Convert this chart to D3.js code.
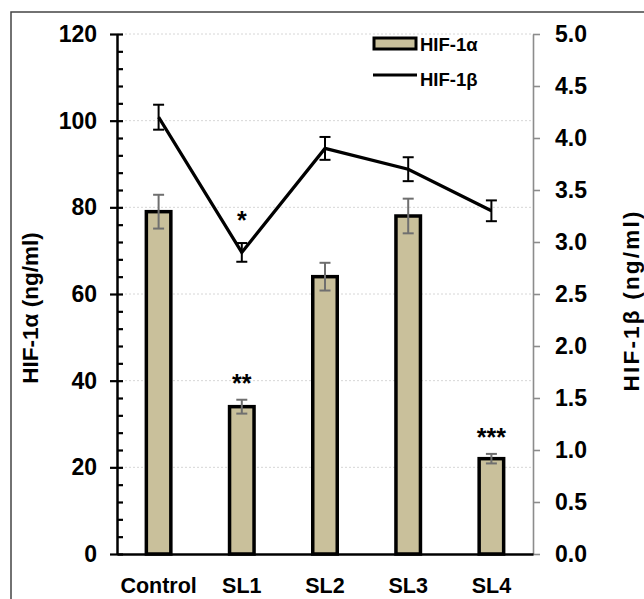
<!DOCTYPE html>
<html>
<head>
<meta charset="utf-8">
<script src="https://cdn.jsdelivr.net/npm/d3@7"></script>
<style>
  body { margin: 0; background: #fff; }
  svg { display: block; font-family: "Liberation Sans", Arial, sans-serif; font-weight: bold; }
</style>
</head>
<body>
<div id="chart"></div>
<script>
const width = 644;
const height = 599;

const categories = ["Control", "SL1", "SL2", "SL3", "SL4"];
const hif1a = [79, 34, 64, 78, 22];
const hif1aErr = [3.9, 1.6, 3.2, 4.0, 1.1];
const hif1b = [4.2, 2.9, 3.9, 3.7, 3.3];
const hif1bErr = [0.12, 0.09, 0.11, 0.115, 0.1];
const leftTicks = [0, 20, 40, 60, 80, 100, 120];
const rightTicks = [0, 0.5, 1, 1.5, 2, 2.5, 3, 3.5, 4, 4.5, 5];
const stars = [
    { cat: "SL1", series: "b", label: "*" },
    { cat: "SL1", series: "a", label: "**" },
    { cat: "SL4", series: "a", label: "***" }
];

const barColor = "#c9c09b";
const plot = { left: 117, right: 533, top: 34, bottom: 554 };

const x = d3.scaleBand().domain(categories).range([plot.left, plot.right]);
const yL = d3.scaleLinear().domain([0, 120]).range([plot.bottom, plot.top]);
const yR = d3.scaleLinear().domain([0, 5]).range([plot.bottom, plot.top]);
const cx = d => x(d) + x.bandwidth() / 2;

const rowsA = categories.map((c, i) => ({ cat: c, v: hif1a[i], e: hif1aErr[i] }));
const rowsB = categories.map((c, i) => ({ cat: c, v: hif1b[i], e: hif1bErr[i] }));

const svg = d3.select("#chart")
    .append("svg")
    .attr("width", width)
    .attr("height", height);

// frame (top and left edges visible)
svg.append("path")
    .attr("d", `M11,${height}V12H${width}`)
    .attr("fill", "none")
    .attr("stroke", "#444")
    .attr("stroke-width", 1.5);

// dotted grid
svg.append("g")
    .selectAll("line")
    .data(leftTicks.filter(t => t > 0))
    .join("line")
    .attr("x1", plot.left)
    .attr("x2", plot.right)
    .attr("y1", d => yL(d))
    .attr("y2", d => yL(d))
    .attr("stroke", "#d6d6d6")
    .attr("stroke-dasharray", "2,2");

// bars
const barW = 24.5;
svg.append("g")
    .selectAll("rect")
    .data(rowsA)
    .join("rect")
    .attr("x", d => cx(d.cat) - barW / 2)
    .attr("width", barW)
    .attr("y", d => yL(d.v))
    .attr("height", d => yL(0) - yL(d.v))
    .attr("fill", barColor)
    .attr("stroke", "#000")
    .attr("stroke-width", 3.5);

function errorBars(g, rows, y, color) {
    const cap = 5.5;
    const eb = g.selectAll("g")
        .data(rows)
        .join("g")
        .attr("stroke", color)
        .attr("stroke-width", 2);
    eb.append("line")
        .attr("x1", d => cx(d.cat)).attr("x2", d => cx(d.cat))
        .attr("y1", d => y(d.v - d.e)).attr("y2", d => y(d.v + d.e));
    eb.append("line")
        .attr("x1", d => cx(d.cat) - cap).attr("x2", d => cx(d.cat) + cap)
        .attr("y1", d => y(d.v + d.e)).attr("y2", d => y(d.v + d.e));
    eb.append("line")
        .attr("x1", d => cx(d.cat) - cap).attr("x2", d => cx(d.cat) + cap)
        .attr("y1", d => y(d.v - d.e)).attr("y2", d => y(d.v - d.e));
}

svg.append("g").call(errorBars, rowsA, yL, "#6f6f6f");

// HIF-1b line
const line = d3.line().x(d => cx(d.cat)).y(d => yR(d.v));
svg.append("path")
    .datum(rowsB)
    .attr("d", line)
    .attr("fill", "none")
    .attr("stroke", "#000")
    .attr("stroke-width", 3.2);

svg.append("g").call(errorBars, rowsB, yR, "#000");

// significance marks
svg.append("g")
    .attr("font-size", 25)
    .attr("text-anchor", "middle")
    .selectAll("text")
    .data(stars)
    .join("text")
    .attr("x", d => cx(d.cat))
    .attr("y", d => {
        const i = categories.indexOf(d.cat);
        const top = d.series === "a" ? yL(hif1a[i] + hif1aErr[i]) : yR(hif1b[i] + hif1bErr[i]);
        return top - (d.series === "a" ? 22 : 28) + 14;
    })
    .text(d => d.label);

// left axis: major ticks outward, minor ticks inward
const axisL = svg.append("g")
    .attr("transform", `translate(${plot.left},0)`)
    .call(d3.axisLeft(yL).tickValues(leftTicks).tickSize(7).tickSizeOuter(0).tickPadding(13));
svg.append("g")
    .attr("transform", `translate(${plot.left},0)`)
    .call(d3.axisRight(yL).tickValues(d3.range(0, 121, 4)).tickSize(6).tickSizeOuter(0).tickFormat(""))
    .call(g => g.select(".domain").remove());
axisL.selectAll("text").attr("font-size", 23).attr("font-family", null).attr("fill", "#000");

// right axis
const axisR = svg.append("g")
    .attr("transform", `translate(${plot.right},0)`)
    .call(d3.axisRight(yR).tickValues(rightTicks).tickSize(7).tickSizeOuter(0).tickPadding(15).tickFormat(d3.format(".1f")));
axisR.selectAll("path, line").attr("stroke", "#8c8c8c").attr("stroke-width", 1.6);
axisR.selectAll("text").attr("font-size", 23).attr("font-family", null).attr("fill", "#000");

// x axis
const axisX = svg.append("g")
    .attr("transform", `translate(0,${plot.bottom})`)
    .call(d3.axisBottom(x).tickSize(0).tickSizeOuter(0).tickPadding(24));
axisX.selectAll("text").attr("font-size", 21.5).attr("font-family", null).attr("fill", "#000");

[axisL, axisX].forEach(a => a.selectAll("path, line").attr("stroke", "#000").attr("stroke-width", 2.5));
svg.selectAll(".tick line").attr("stroke-width", 2.2);
axisR.selectAll(".tick line").attr("stroke", "#8c8c8c").attr("stroke-width", 1.6);

// axis titles
svg.append("text")
    .attr("transform", "translate(30,308) rotate(-90)")
    .attr("text-anchor", "middle")
    .attr("dominant-baseline", "central")
    .attr("font-size", 22.5)
    .text("HIF-1α (ng/ml)");
svg.append("text")
    .attr("transform", "translate(631,301.5) rotate(-90)")
    .attr("text-anchor", "middle")
    .attr("dominant-baseline", "central")
    .attr("font-size", 22.5)
    .attr("textLength", 180)
    .attr("lengthAdjust", "spacing")
    .text("HIF-1β (ng/ml)");

// legend
const legend = svg.append("g").attr("font-size", 18.5);
legend.append("rect")
    .attr("x", 374).attr("y", 38).attr("width", 42).attr("height", 11)
    .attr("fill", barColor).attr("stroke", "#000").attr("stroke-width", 3);
legend.append("text").attr("x", 420).attr("y", 51).text("HIF-1α");
legend.append("line")
    .attr("x1", 373).attr("x2", 417).attr("y1", 75).attr("y2", 75)
    .attr("stroke", "#000").attr("stroke-width", 3);
legend.append("text").attr("x", 420).attr("y", 86).text("HIF-1β");
</script>
</body>
</html>
